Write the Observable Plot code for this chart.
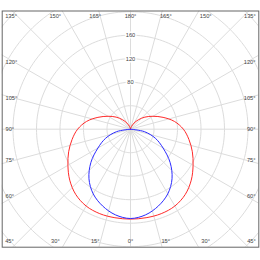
<!DOCTYPE html>
<html><head><meta charset="utf-8">
<script src="https://cdn.jsdelivr.net/npm/d3@7"></script>
<script src="https://cdn.jsdelivr.net/npm/@observablehq/plot@0.6"></script>
<style>body{margin:0;background:#fff} svg{display:block}</style>
</head><body><div id="chart"></div>
<script>
// Polar angles (degrees from nadir) and intensities for the two planes (symmetric)
const angles = [0, 10, 20, 30, 40, 50, 60, 70, 80, 90, 100, 110, 120, 130, 140, 150, 160, 170, 180];
const redValues = [153, 153, 153, 151, 145, 135, 123, 112, 101, 90, 76, 59, 44, 32, 21, 12, 5, 1, 0];
const blueValues = [152, 148, 139, 127, 110, 88, 64, 45, 24, 0, 0, 0, 0, 0, 0, 0, 0, 0, 0];
const ringValues = [40, 80, 120, 160, 200, 240, 280];
const ringLabelValues = [80, 120, 160];
const spokeAngles = [0, 15, 30, 45, 60, 75, 90, 105, 120, 135, 150, 165, 180, 195, 210, 225, 240, 255, 270, 285, 300, 315, 330, 345];
const angleLabelValues = [0, 15, 30, 45, 60, 75, 90, 105, 120, 135, 150, 165, 180];

const rad = d => d * Math.PI / 180;
const k = 0.5875; // px per unit
const mL = 1.7, mR = 1.7, mT = 10.5, mB = 13.3, Wpx = 260, Hpx = 260;
const W = (Wpx - mL - mR) / 2 / k;
const Ht = (Hpx / 2 - mT + (Hpx/2 - mB - (Hpx - mT - mB)/2 - 0)) / k; // placeholder, recomputed below
const frameH = Hpx - mT - mB;
const cyPx = 128.7; // center in px
const Htop = (cyPx - mT) / k;
const Hbot = (Hpx - mB - cyPx) / k;

function curvePoints(vals) {
  const pts = [];
  for (let i = angles.length - 1; i >= 0; i--) pts.push({a: -angles[i], r: vals[i]});
  for (let i = 1; i < angles.length; i++) pts.push({a: angles[i], r: vals[i]});
  return pts.map(p => ({x: Math.sin(rad(p.a)) * p.r, y: -Math.cos(rad(p.a)) * p.r}));
}
const redPts = curvePoints(redValues);
const bluePts = curvePoints(blueValues).filter((p, i, arr) => true);

const rings = [];
for (const r of ringValues) for (let a = 0; a <= 360; a += 2) rings.push({r, x: Math.sin(rad(a)) * r, y: -Math.cos(rad(a)) * r});
const spokes = [];
for (const a of spokeAngles) { spokes.push({a, x: 0, y: 0}); spokes.push({a, x: Math.sin(rad(a)) * 400, y: -Math.cos(rad(a)) * 400}); }

const fontFamily = "'Liberation Sans', Arial, sans-serif";
const fs = 5.7;
const ctx = document.createElement("canvas").getContext("2d");
ctx.font = `${fs}px ${fontFamily}`;

const labels = [];
for (const a of angleLabelValues) {
  const sides = (a === 0 || a === 180) ? [1] : [-1, 1];
  for (const s of sides) {
    const text = `${a}°`;
    const w = ctx.measureText(text).width;
    const ux = s * Math.sin(rad(a)), uy = -Math.cos(rad(a));
    const tv = Math.abs(ux) > 1e-9 ? W / Math.abs(ux) : Infinity;
    const th = uy > 1e-9 ? Htop / uy : (uy < -1e-9 ? Hbot / -uy : Infinity);
    let x, y, anchor;
    if (tv < th) {
      x = s * (W - 3.3 / k);
      anchor = s < 0 ? "start" : "end";
      y = uy * tv + 14 * Math.cos(rad(a)) / k;
    } else {
      y = uy > 0 ? Htop - 5 / k : -Hbot + 6 / k;
      x = ux * th + s * 14 * Math.sin(rad(a)) / k;
      anchor = "middle";
      if (Math.abs(x) * k + w / 2 > W * k - 3) { x = s * (W - 3 / k); anchor = s < 0 ? "start" : "end"; }
    }
    labels.push({x, y, text, anchor});
  }
}

const textStyle = {fontSize: fs, fontFamily, fill: "#444", lineAnchor: "middle"};
const chart = Plot.plot({
  width: Wpx, height: Hpx,
  marginLeft: mL, marginRight: mR, marginTop: mT, marginBottom: mB,
  x: {domain: [-W, W], axis: null},
  y: {domain: [-Hbot, Htop], axis: null},
  marks: [
    Plot.line(rings, {x: "x", y: "y", z: "r", stroke: "#dcdcdc", strokeWidth: 1, clip: true}),
    Plot.line(spokes, {x: "x", y: "y", z: "a", stroke: "#dcdcdc", strokeWidth: 1, clip: true}),
    Plot.text(ringLabelValues, {x: () => 0, y: d => d, text: d => String(d), ...textStyle, stroke: "white", strokeWidth: 3}),
    Plot.line(redPts, {x: "x", y: "y", stroke: "#ff2a2a", strokeWidth: 1, curve: "catmull-rom"}),
    Plot.line(bluePts, {x: "x", y: "y", stroke: "#2a2aff", strokeWidth: 1, curve: "catmull-rom"}),
    Plot.text(labels.filter(d => d.anchor === "start"), {x: "x", y: "y", text: "text", textAnchor: "start", ...textStyle}),
    Plot.text(labels.filter(d => d.anchor === "middle"), {x: "x", y: "y", text: "text", textAnchor: "middle", ...textStyle}),
    Plot.text(labels.filter(d => d.anchor === "end"), {x: "x", y: "y", text: "text", textAnchor: "end", ...textStyle}),
    Plot.frame({stroke: "#666", strokeWidth: 1})
  ]
});
document.getElementById("chart").append(chart);
</script>
</body></html>
